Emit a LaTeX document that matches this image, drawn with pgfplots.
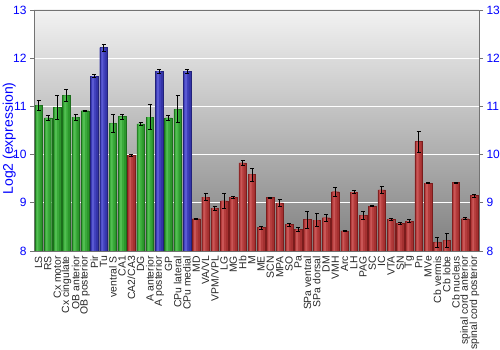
\documentclass[border=0pt]{standalone}
\usepackage{fontspec}
\setmainfont{Liberation Sans}
\usepackage{pgfplots}
\usepackage{pgfplotstable}
\pgfplotsset{compat=1.18}
\definecolor{gedge}{HTML}{1C6E1C}
\definecolor{gbase}{HTML}{2C962C}
\definecolor{gmid}{HTML}{3AAA3A}
\definecolor{glight}{HTML}{52BE52}
\definecolor{bedge}{HTML}{22227A}
\definecolor{bbase}{HTML}{3434A8}
\definecolor{bmid}{HTML}{4040BC}
\definecolor{blight}{HTML}{5A5AD2}
\definecolor{redge}{HTML}{7A1C1C}
\definecolor{rbase}{HTML}{A43030}
\definecolor{rmid}{HTML}{B43C3C}
\definecolor{rlight}{HTML}{CA5656}
\definecolor{tickblue}{HTML}{0000FF}
\pgfplotstableread{
x y e
0 11.02 0.11
1 10.76 0.055
2 10.98 0.24
3 11.23 0.13
4 10.78 0.06
5 10.91 0.01
8 10.65 0.18
9 10.79 0.05
11 10.64 0.04
12 10.78 0.26
14 10.76 0.05
15 10.94 0.28
}\greendata
\pgfplotstableread{
x y e
6 11.63 0.03
7 12.22 0.07
13 11.73 0.05
16 11.73 0.05
}\bluedata
\pgfplotstableread{
x y e
10 9.99 0.02
17 8.67 0.01
18 9.12 0.07
19 8.89 0.045
20 9.04 0.16
21 9.12 0.025
22 9.83 0.045
23 9.59 0.135
24 8.49 0.03
25 9.11 0.01
26 9.00 0.08
27 8.55 0.03
28 8.45 0.05
29 8.65 0.18
30 8.64 0.135
31 8.69 0.07
32 9.23 0.095
33 8.42 0.01
34 9.22 0.03
35 8.74 0.09
36 8.93 0.01
37 9.27 0.065
38 8.66 0.02
39 8.58 0.02
40 8.62 0.03
41 10.27 0.22
42 9.41 0.01
43 8.18 0.10
44 8.22 0.145
45 9.42 0.015
46 8.67 0.02
47 9.15 0.03
}\reddata
\begin{document}
\begin{tikzpicture}
\pgfplotsset{
  common/.style={
    scale only axis, width=445pt, height=241pt,
    xmin=-0.5, xmax=47.5, ymin=8, ymax=13,
    ytick={8,9,10,11,12,13},
    /pgf/number format/assume math mode=true,
    yticklabel style={font=\fontsize{12}{12}\selectfont, text=tickblue},
    axis line style={black!55},
    tick style={black!55, line width=0.6pt},
    tick align=outside, major tick length=4pt,
  },
  basebar/.style={ybar, bar width=0.82, bar shift=0, draw=#1edge, line width=0.4pt, fill=#1base},
  midbar/.style={ybar, bar width=0.5, bar shift=-0.06, draw=none, fill=#1mid},
  hibar/.style={ybar, bar width=0.2, bar shift=-0.12, draw=none, fill=#1light},
  errplot/.style={draw=none, mark=none, forget plot,
    error bars/.cd, y dir=both, y explicit,
    error bar style={draw=black, line width=0.6pt},
    error mark options={rotate=90, mark size=2pt, draw=black, line width=0.6pt}},
}
\begin{axis}[common,
  axis background/.style={top color=black!5, bottom color=black!50},
  ymajorgrids, grid style={white, line width=0.9pt},
  xtick={0,...,47},
  xticklabels={LS,RS,Cx motor,Cx cingulate,OB anterior,OB posterior,Pir,Tu,ventral S,CA1,CA2/CA3,DG,A anterior,A posterior,GP,CPu lateral,CPu medial,MD,VA/VL,VPM/VPL,LG,MG,Hb,M,ME,SCN,MPA,SO,Pa,SPa ventral,SPa dorsal,DM,VMH,Arc,LH,PAG,SC,IC,VTA,SN,Tg,Pn,MVe,Cb vermis,Cb lobe,Cb nucleus,spinal cord anterior,spinal cord posterior},
  xticklabel style={rotate=90, anchor=east, font=\fontsize{10.4}{10.4}\selectfont, text=black!85, inner sep=1pt},
  x tick style={draw=none},
  ytick pos=left,
  ylabel={Log2 (expression)},
  ylabel style={font=\fontsize{14}{14}\selectfont, text=tickblue, at={(rel axis cs:0,0.5)}, anchor=south, inner sep=0pt, yshift=18pt, xshift=-8pt},
]
\coordinate (sw) at (rel axis cs:0,0);
\coordinate (ne) at (rel axis cs:1,1);
\addplot[basebar=g] table[x=x,y=y] {\greendata};
\addplot[midbar=g] table[x=x,y=y] {\greendata};
\addplot[hibar=g] table[x=x,y=y] {\greendata};
\addplot[basebar=b] table[x=x,y=y] {\bluedata};
\addplot[midbar=b] table[x=x,y=y] {\bluedata};
\addplot[hibar=b] table[x=x,y=y] {\bluedata};
\addplot[basebar=r] table[x=x,y=y] {\reddata};
\addplot[midbar=r] table[x=x,y=y] {\reddata};
\addplot[hibar=r] table[x=x,y=y] {\reddata};
\addplot[errplot] table[x=x,y=y,y error=e] {\greendata};
\addplot[errplot] table[x=x,y=y,y error=e] {\bluedata};
\addplot[errplot] table[x=x,y=y,y error=e] {\reddata};
\end{axis}
\begin{axis}[common,
  hide x axis, axis y line*=right,
  ytick pos=right, yticklabel pos=right,
]
\addplot[draw=none] coordinates {(0,8)};
\end{axis}
\pgfresetboundingbox
\useasboundingbox ([shift={(-34pt,-99pt)}]sw) rectangle ([shift={(21pt,10pt)}]ne);
\end{tikzpicture}
\end{document}
